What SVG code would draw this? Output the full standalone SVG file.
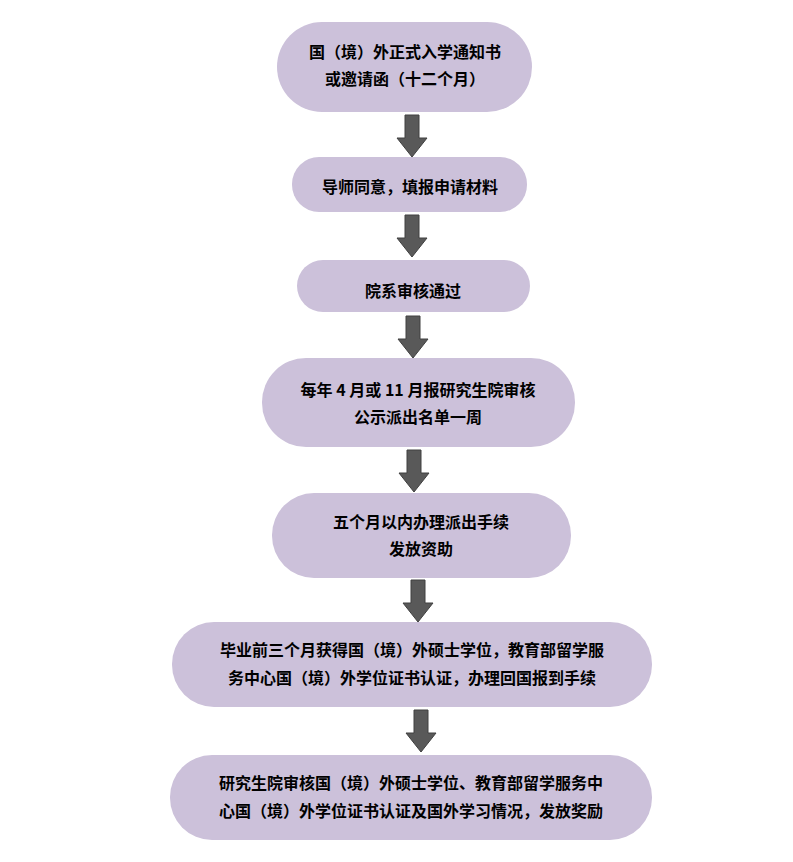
<svg xmlns="http://www.w3.org/2000/svg" width="793" height="862" viewBox="0 0 793 862">
<style>
.n{fill:#CCC1DA;stroke:none}
.t{font-family:"Noto Sans CJK SC","Liberation Sans",sans-serif;font-size:16px;font-weight:bold;fill:#000;text-anchor:middle}
.a{fill:#595959;stroke:#404040;stroke-width:1}
</style>
<rect width="793" height="862" fill="#fff"/>
<defs><path id="arr" d="M-7,0 H7 V23 H15 L0,42 L-15,23 H-7 Z"/></defs>
<g id="connectors">
<use href="#arr" class="a" x="412" y="115"/>
<use href="#arr" class="a" x="412" y="215"/>
<use href="#arr" class="a" x="413" y="316"/>
<use href="#arr" class="a" x="414" y="450"/>
<use href="#arr" class="a" x="418" y="580"/>
<use href="#arr" class="a" x="421" y="710"/>
</g>
<g id="n1"><rect class="n" x="277" y="22" width="255" height="90" rx="45"/><text class="t" x="405" y="58">国（境）外正式入学通知书</text><text class="t" x="405" y="85">或邀请函（十二个月）</text></g>
<g id="n2"><rect class="n" x="292" y="157" width="235" height="55" rx="27"/><text class="t" x="410" y="193">导师同意，填报申请材料</text></g>
<g id="n3"><rect class="n" x="297" y="260" width="233" height="52" rx="26"/><text class="t" x="413" y="297">院系审核通过</text></g>
<g id="n4"><rect class="n" x="262" y="358" width="313" height="89" rx="44"/><text class="t" x="418" y="396">每年 4 月或 11 月报研究生院审核</text><text class="t" x="418" y="423">公示派出名单一周</text></g>
<g id="n5"><rect class="n" x="272" y="493" width="299" height="85" rx="42"/><text class="t" x="421" y="528">五个月以内办理派出手续</text><text class="t" x="421" y="555">发放资助</text></g>
<g id="n6"><rect class="n" x="172" y="622" width="480" height="85" rx="42"/><text class="t" x="412" y="656">毕业前三个月获得国（境）外硕士学位，教育部留学服</text><text class="t" x="412" y="684">务中心国（境）外学位证书认证，办理回国报到手续</text></g>
<g id="n7"><rect class="n" x="170" y="755" width="482" height="85" rx="42"/><text class="t" x="411" y="789">研究生院审核国（境）外硕士学位、教育部留学服务中</text><text class="t" x="411" y="817">心国（境）外学位证书认证及国外学习情况，发放奖励</text></g>
</svg>
